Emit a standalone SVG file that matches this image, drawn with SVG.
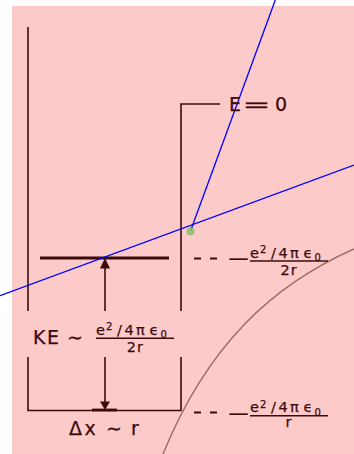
<svg xmlns="http://www.w3.org/2000/svg" width="354" height="454" viewBox="0 0 354 454">
  <style>
    .wall{stroke:#3b0b0b;stroke-width:1.6;fill:none}
    .lvl{stroke:#3b0b0b;stroke-width:2.8;fill:none}
    .blue{stroke:#0000ff;stroke-width:1.3;fill:none}
    .curve{stroke:#a06868;stroke-width:1.4;fill:none}
    .lead{stroke:#3b0b0b;stroke-width:2;stroke-dasharray:7 9;fill:none}
    text{font-family:"DejaVu Sans","Liberation Sans",sans-serif;fill:#3b0b0b;stroke:#3b0b0b;stroke-width:0.25}
    .big{font-size:19px}
    .num{font-size:14.5px}
    .s{font-size:10px}
    .head{fill:#3b0b0b}
  </style>
  <rect x="12" y="6" width="342" height="448" fill="#fdcaca"/>

  <g id="well">
    <path class="wall" d="M28,27 V311 M28,357 V410.5 H181 V357 M181,311 V104 H220"/>
    <line class="lvl" x1="92" y1="410" x2="117" y2="410"/>
  </g>

  <g id="level">
    <line class="lvl" x1="40" y1="258" x2="169" y2="258"/>
  </g>

  <g id="connectors">
    <path class="curve" d="M163,454 C208,344 273,285 354,249"/>
    <line class="blue" x1="0" y1="295.7" x2="354" y2="165"/>
    <line class="blue" x1="190.5" y1="231" x2="275.3" y2="0"/>
    <line class="wall" x1="105" y1="266" x2="105" y2="311"/>
    <polygon class="head" points="105,258 100,268.5 110,268.5"/>
    <line class="wall" x1="105" y1="357" x2="105" y2="403"/>
    <polygon class="head" points="105,410 100,401.5 110,401.5"/>
    <line class="lead" x1="194" y1="258.5" x2="218" y2="258.5"/>
    <line class="lead" x1="194" y1="412.5" x2="218" y2="412.5"/>
  </g>

  <g id="point">
    <circle cx="190.5" cy="231.5" r="4" fill="#8cc46a" fill-opacity="0.9"/>
  </g>

  <g id="label-E0">
    <text class="big" x="229" y="110.7">E</text>
    <text class="big" x="242.5" y="110.7" textLength="28" lengthAdjust="spacingAndGlyphs">=</text>
    <text class="big" x="275" y="110.7">0</text>
  </g>

  <g id="label-level">
    <text class="big" x="226.5" y="264.5" textLength="24" lengthAdjust="spacingAndGlyphs">−</text>
    <line class="wall" x1="250" y1="261" x2="328" y2="261"/>
    <text class="num"><tspan x="250" y="257.7">e</tspan><tspan class="s" x="260" y="253">2</tspan><tspan x="271" y="257.7">/</tspan><tspan x="278.5">4</tspan><tspan x="290">π</tspan><tspan x="303.5">ϵ</tspan><tspan class="s" x="314.5" y="261">0</tspan></text>
    <text class="num" x="289" y="275" text-anchor="middle" letter-spacing="1">2r</text>
  </g>

  <g id="label-bottom">
    <text class="big" x="226.5" y="419.5" textLength="24" lengthAdjust="spacingAndGlyphs">−</text>
    <line class="wall" x1="250" y1="415.7" x2="328" y2="415.7"/>
    <g transform="translate(0,154.7)">
      <text class="num"><tspan x="250" y="257.7">e</tspan><tspan class="s" x="260" y="253">2</tspan><tspan x="271" y="257.7">/</tspan><tspan x="278.5">4</tspan><tspan x="290">π</tspan><tspan x="303.5">ϵ</tspan><tspan class="s" x="314.5" y="261">0</tspan></text>
    </g>
    <text class="num" x="288.5" y="427" text-anchor="middle">r</text>
  </g>

  <g id="label-KE">
    <text class="big" x="33" y="344.3">K</text>
    <text class="big" x="47" y="344.3">E</text>
    <text class="big" x="67" y="344.3">∼</text>
    <line class="wall" x1="96" y1="338.3" x2="174" y2="338.3"/>
    <g transform="translate(-154,77.3)">
      <text class="num"><tspan x="250" y="257.7">e</tspan><tspan class="s" x="260" y="253">2</tspan><tspan x="271" y="257.7">/</tspan><tspan x="278.5">4</tspan><tspan x="290">π</tspan><tspan x="303.5">ϵ</tspan><tspan class="s" x="314.5" y="261">0</tspan></text>
    </g>
    <text class="num" x="135.3" y="352.3" text-anchor="middle" letter-spacing="1">2r</text>
  </g>

  <g id="label-dx">
    <text class="big" x="69" y="435">Δ</text>
    <text class="big" x="84.5" y="435">x</text>
    <text class="big" x="106" y="435">∼</text>
    <text class="big" x="131" y="435">r</text>
  </g>
</svg>
